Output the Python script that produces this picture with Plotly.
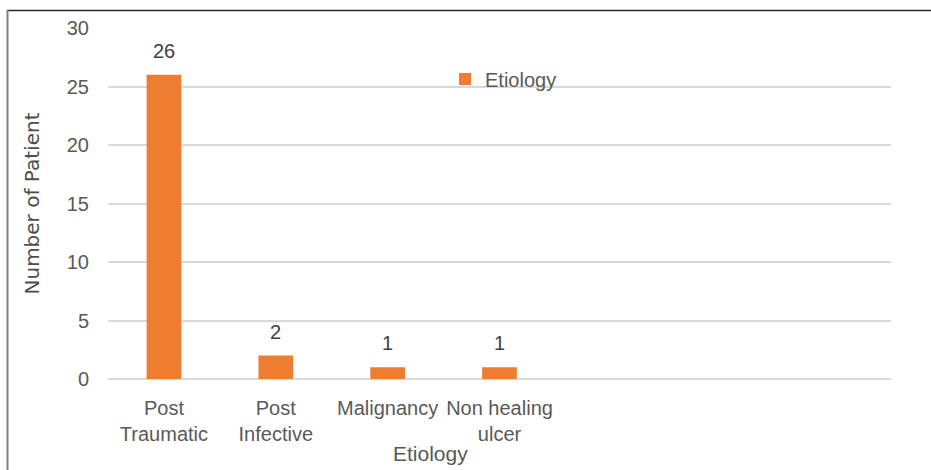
import plotly.graph_objects as go

# Etiology breakdown of patients
categories = ["Post<br>Traumatic", "Post<br>Infective", "Malignancy", "Non healing<br>ulcer"]
patients = [26, 2, 1, 1]
y_ticks = [0, 5, 10, 15, 20, 25, 30]

BAR_COLOR = "#ED7D31"
TEXT_GRAY = "#595959"
LABEL_GRAY = "#404040"
GRID = "#D9D9D9"
FONT = "Liberation Sans"

W, H = 931, 470
M = dict(l=108, r=40, t=28, b=91)
pw = W - M["l"] - M["r"]
ph = H - M["t"] - M["b"]


def px_x(x):
    return (x - M["l"]) / pw


def px_y(y):
    return (H - M["b"] - y) / ph


fig = go.Figure()
fig.add_trace(go.Bar(
    x=categories,
    y=patients,
    name="Etiology",
    marker=dict(color=BAR_COLOR, line=dict(width=0)),
    width=0.31,
))

# value labels above each bar
for c, v in zip(categories, patients):
    fig.add_annotation(
        x=c, y=v, xref="x", yref="y", text=str(v), showarrow=False,
        yanchor="middle", yshift=24,
        font=dict(family=FONT, size=20, color=LABEL_GRAY),
    )

# axis titles
fig.add_annotation(
    x=px_x(430), y=px_y(454), xref="paper", yref="paper", text="Etiology",
    showarrow=False, xanchor="center", yanchor="middle",
    font=dict(family=FONT, size=21, color=TEXT_GRAY),
)
fig.add_annotation(
    x=px_x(31), y=0.5, xref="paper", yref="paper", text="Number of Patient",
    showarrow=False, textangle=-90, xanchor="center", yanchor="middle",
    font=dict(family="DejaVu Sans", size=20, color="#4D4D4D"),
)

# chart frame (top and left edges)
fig.add_shape(type="line", xref="paper", yref="paper",
              x0=px_x(7), x1=px_x(W + 20), y0=px_y(10.5), y1=px_y(10.5),
              line=dict(color="#262626", width=1.5))
fig.add_shape(type="line", xref="paper", yref="paper",
              x0=px_x(7.5), x1=px_x(7.5), y0=px_y(10), y1=px_y(H + 20),
              line=dict(color="#7F7F7F", width=2))

fig.update_layout(
    width=W, height=H,
    margin=M,
    paper_bgcolor="white",
    plot_bgcolor="white",
    showlegend=True,
    legend=dict(
        x=px_x(445), y=px_y(79), xanchor="left", yanchor="middle",
        bgcolor="rgba(0,0,0,0)",
        font=dict(family=FONT, size=20, color=TEXT_GRAY),
    ),
    xaxis=dict(
        type="category",
        range=[-0.5, 6.5],
        showgrid=False,
        showline=False,
        zeroline=False,
        ticks="",
        ticklabelstandoff=15,
        tickfont=dict(family=FONT, size=20, color=TEXT_GRAY),
        fixedrange=True,
    ),
    yaxis=dict(
        range=[0, 30],
        tickvals=y_ticks,
        showgrid=True,
        gridcolor=GRID,
        gridwidth=1.5,
        zeroline=True,
        zerolinecolor=GRID,
        zerolinewidth=1.5,
        showline=False,
        ticks="",
        ticklabelstandoff=18,
        tickfont=dict(family=FONT, size=20, color=TEXT_GRAY),
        fixedrange=True,
    ),
)

fig.write_html("out.html")
